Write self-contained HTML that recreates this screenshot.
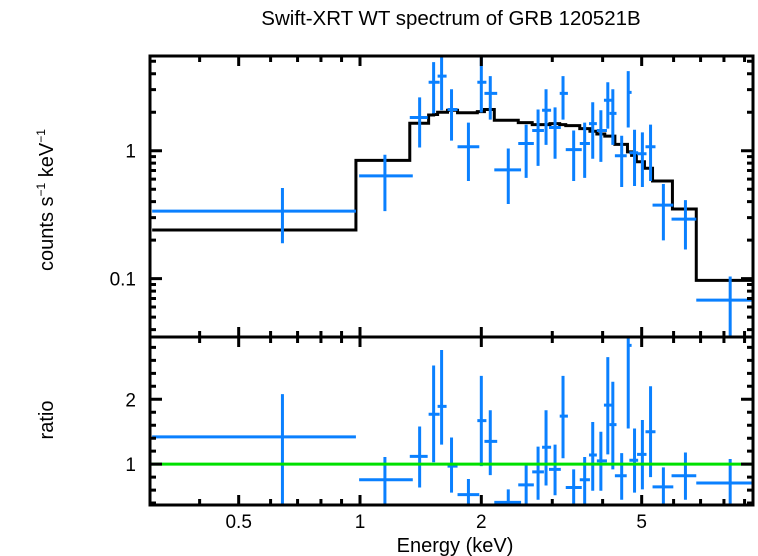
<!DOCTYPE html>
<html><head><meta charset="utf-8">
<style>
html,body{margin:0;padding:0;background:#fff;}
svg{display:block;font-family:"Liberation Sans",sans-serif;}
</style></head>
<body>
<svg id="chart" width="758" height="556" viewBox="0 0 758 556">
<text x="451" y="25" text-anchor="middle" font-size="20.5">Swift-XRT WT spectrum of GRB 120521B</text>
<text transform="translate(53,200) rotate(-90)" text-anchor="middle" font-size="20">counts s<tspan font-size="12" dy="-8">−1</tspan><tspan dy="8"> keV</tspan><tspan font-size="12" dy="-8">−1</tspan></text>
<text transform="translate(53,420) rotate(-90)" text-anchor="middle" font-size="20">ratio</text>
<text x="455" y="552" text-anchor="middle" font-size="20">Energy (keV)</text>
<g id="marks"></g>
</svg>
<script>
const eLo  = [0.305,0.995,1.329,1.480,1.558,1.649,1.746,1.955,2.036,2.154,2.47,2.675,2.83,2.944,3.13,3.24,3.51,3.70,3.87,4.03,4.16,4.29,4.61,4.66,4.87,5.11,5.32,5.93,6.83];
const eHi  = [0.977,1.352,1.472,1.576,1.640,1.746,1.977,2.059,2.19,2.51,2.70,2.86,2.98,3.15,3.28,3.55,3.72,3.87,4.10,4.21,4.33,4.59,4.72,4.90,5.14,5.41,5.99,6.83,9.50];
const eMid = [0.642,1.153,1.406,1.523,1.594,1.687,1.858,2.0,2.105,2.333,2.584,2.766,2.895,3.048,3.19,3.39,3.61,3.78,3.96,4.12,4.24,4.46,4.63,4.80,5.02,5.26,5.66,6.42,8.29];
const rate = [0.337,0.636,1.82,3.43,3.83,2.10,1.075,3.43,2.81,0.709,1.14,1.44,2.07,1.52,2.81,1.02,1.14,1.63,1.44,2.48,1.96,0.913,2.86,0.965,0.947,1.075,0.376,0.292,0.068];
const rateLo = [0.189,0.337,1.06,1.96,2.07,1.20,0.58,1.99,1.75,0.383,0.613,0.762,1.11,0.865,1.75,0.58,0.613,0.865,0.819,1.49,1.11,0.521,1.52,0.530,0.521,0.580,0.199,0.169,0.03];
const rateHi = [0.511,0.93,2.61,4.93,5.8,3.02,1.66,5.8,3.83,1.04,1.60,2.10,3.02,2.18,3.83,1.44,1.66,2.39,2.07,3.43,3.02,1.31,4.19,1.46,1.39,1.60,0.550,0.411,0.104];
const ratio = [1.42,0.76,1.12,1.77,1.89,0.97,0.53,1.67,1.35,0.41,0.68,0.88,1.26,0.92,1.74,0.64,0.76,1.14,1.05,1.91,1.61,0.82,2.83,1.06,1.15,1.50,0.65,0.82,0.71];
const ratioLo = [0.3,0.38,0.64,1.03,1.3,0.56,0.27,0.97,0.83,0.2,0.35,0.45,0.67,0.52,1.09,0.36,0.38,0.59,0.59,1.15,0.92,0.45,1.55,0.56,0.61,0.80,0.33,0.45,0.3];
const ratioHi = [2.08,1.11,1.58,2.52,2.76,1.41,0.77,2.36,1.83,0.61,0.98,1.27,1.83,1.30,2.36,0.92,1.11,1.65,1.50,2.65,2.27,1.17,3.0,1.55,1.68,2.20,0.95,1.18,1.08];
const modelEdges = [0.305,0.977,1.329,1.480,1.523,1.558,1.649,1.746,1.955,2.036,2.154,2.47,2.675,2.96,3.13,3.24,3.51,3.72,3.87,4.05,4.29,4.61,4.72,4.85,5.08,5.32,5.96,6.83,9.50];
const modelVals  = [0.24,0.84,1.64,1.90,1.92,2.00,2.07,1.98,2.02,2.10,1.73,1.66,1.60,1.63,1.60,1.57,1.49,1.42,1.35,1.30,1.12,0.98,0.92,0.82,0.73,0.58,0.35,0.097];
const xTickVals = [0.5,1,2,5];
const xTickLabels = ["0.5","1","2","5"];
const yTopTicks = [0.1,1];
const yTopLabels = ["0.1","1"];
const yRatTicks = [1,2];
const yRatLabels = ["1","2"];

const L=150,R=753,T1=56,B1=337,B2=505;
const X0=360,DEC=403;
const xs=e=>X0+Math.log10(e)*DEC;
const yTopMin=0.035,yTopMax=5.5;
const yt=v=>{v=Math.max(yTopMin,Math.min(yTopMax,v));return B1-(Math.log10(v)-Math.log10(yTopMin))/(Math.log10(yTopMax)-Math.log10(yTopMin))*(B1-T1);};
const rMin=0.37,rMax=2.96;
const yr=v=>{v=Math.max(rMin,Math.min(rMax,v));return B2-(v-rMin)/(rMax-rMin)*(B2-B1);};
const xc=x=>Math.max(L,Math.min(R,x));
const NS="http://www.w3.org/2000/svg";
const g=document.getElementById('marks');
function mk(tag,at,parent){const el=document.createElementNS(NS,tag);for(const k in at)el.setAttribute(k,at[k]);(parent||g).appendChild(el);return el;}
const BLUE="#0a80ff";
let d="";
for(let i=0;i<modelVals.length;i++){const x1=xc(xs(modelEdges[i])),x2=xc(xs(modelEdges[i+1])),y=yt(modelVals[i]);d+=(i?"L":"M")+x1+","+y+"L"+x2+","+y;}
const model=mk('path',{d:d,fill:"none",stroke:"#000","stroke-width":3});


for(let i=0;i<rate.length;i++){
  const xa=xc(xs(eLo[i])),xb=xc(xs(eHi[i])),xm=xs(eMid[i]);
  const p=mk('path',{d:`M${xa},${yt(rate[i])}H${xb}M${xm},${yt(rateLo[i])}V${yt(rateHi[i])}`,stroke:BLUE,"stroke-width":3,fill:"none"});
  
  
  const q=mk('path',{d:`M${xa},${yr(ratio[i])}H${xb}M${xm},${yr(ratioLo[i])}V${yr(ratioHi[i])}`,stroke:BLUE,"stroke-width":3,fill:"none"});
  
  
}
const gl=mk('line',{x1:L,x2:R,y1:yr(1),y2:yr(1),stroke:"#00e000","stroke-width":3});


for(const [t,b,n] of [[T1,B1,'top-panel-frame'],[B1,B2,'bottom-panel-frame']]){
  const f=mk('rect',{x:L,y:t,width:R-L,height:b-t,fill:"none",stroke:"#000","stroke-width":3});
  
  
}
let td="";
const xmin=[];for(let k=-1;k<=0;k++)for(let m=1;m<=9;m++)xmin.push(m*Math.pow(10,k));
for(const v of xmin){const x=xs(v);if(x<=L+1||x>=R-1)continue;const major=xTickVals.includes(v);const len=major?10:6;
  for(const [yy,dir] of [[T1,1],[B1,-1],[B1,1],[B2,-1]])td+=`M${x},${yy}v${dir*len}`;}
const ymin=[];for(let k=-2;k<=0;k++)for(let m=1;m<=9;m++)ymin.push(m*Math.pow(10,k));
for(const v of ymin){if(v<yTopMin||v>yTopMax)continue;const y=yt(v);const major=yTopTicks.includes(v);const len=major?12:6;td+=`M${L},${y}h${len}M${R},${y}h${-len}`;}
for(let v=0.4;v<2.95;v+=0.2){const vv=Math.round(v*10)/10;const y=yr(vv);const major=yRatTicks.includes(vv);const len=major?12:6;td+=`M${L},${y}h${len}M${R},${y}h${-len}`;}
const tk=mk('path',{d:td,stroke:"#000","stroke-width":3,fill:"none"});


for(let i=0;i<xTickVals.length;i++){const t=mk('text',{x:xs(xTickVals[i]),y:528,"text-anchor":"middle","font-size":19});t.textContent=xTickLabels[i];
  
  }
for(let i=0;i<yTopTicks.length;i++){const t=mk('text',{x:136,y:yt(yTopTicks[i])+7,"text-anchor":"end","font-size":19});t.textContent=yTopLabels[i];
  
  }
for(let i=0;i<yRatTicks.length;i++){const t=mk('text',{x:136,y:yr(yRatTicks[i])+7,"text-anchor":"end","font-size":19});t.textContent=yRatLabels[i];
  
  }
</script>
</body></html>
